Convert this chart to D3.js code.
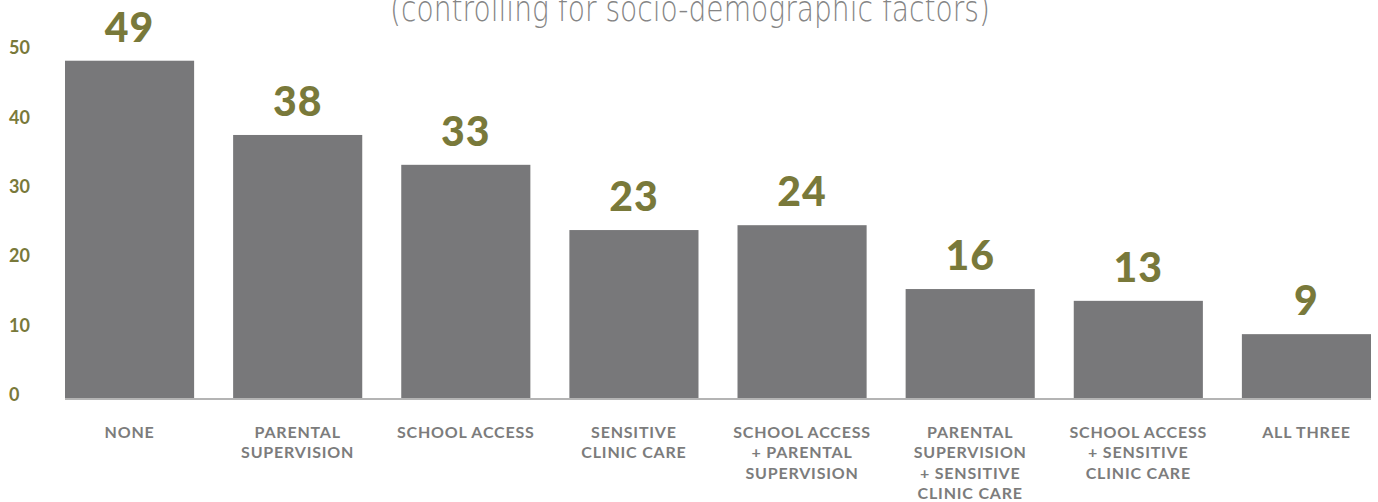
<!DOCTYPE html>
<html>
<head>
<meta charset="utf-8">
<script src="https://cdn.jsdelivr.net/npm/d3@7"></script>
<style>
    body { margin: 0; background: #fff; }
    svg { display: block; }
</style>
</head>
<body>
<svg id="chart" width="1378" height="502"></svg>
<script>
// chart data
var categories = [
    ["NONE"],
    ["PARENTAL", "SUPERVISION"],
    ["SCHOOL ACCESS"],
    ["SENSITIVE", "CLINIC CARE"],
    ["SCHOOL ACCESS", "+ PARENTAL", "SUPERVISION"],
    ["PARENTAL", "SUPERVISION", "+ SENSITIVE", "CLINIC CARE"],
    ["SCHOOL ACCESS", "+ SENSITIVE", "CLINIC CARE"],
    ["ALL THREE"]
];
var barValues = [48.6, 37.9, 33.6, 24.2, 24.9, 15.7, 14.0, 9.2];
var valueLabels = ["49", "38", "33", "23", "24", "16", "13", "9"];
var yTicks = [0, 10, 20, 30, 40, 50];
var subtitle = "(controlling for socio-demographic factors)";

var OLIVE = "#79793a";
var BAR = "#78787a";
var TEXT_GREY = "#7c7c7c";

var svg = d3.select("#chart");

var x = d3.scaleBand()
    .domain(d3.range(categories.length))
    .range([65, 1371])
    .paddingInner(0.232)
    .paddingOuter(0);

var y = d3.scaleLinear()
    .domain([0, 50])
    .range([398, 51]);

// subtitle, cut off at the top like the original
svg.append("text")
    .attr("x", 690)
    .attr("y", 21)
    .attr("text-anchor", "middle")
    .attr("fill", "#858585")
    .attr("font-family", "'DejaVu Sans', sans-serif")
    .attr("font-weight", "200")
    .attr("font-size", "36")
    .attr("textLength", 600)
    .attr("lengthAdjust", "spacingAndGlyphs")
    .text(subtitle);

// y axis labels
var yAxis = svg.append("g")
    .attr("transform", "translate(9,0)")
    .call(d3.axisLeft(y).tickValues(yTicks).tickSize(0).tickPadding(0));

yAxis.select(".domain").remove();
yAxis.selectAll("text")
    .attr("text-anchor", "start")
    .attr("x", 0)
    .attr("dy", "0.32em")
    .attr("transform", "translate(0,-3)")
    .attr("fill", OLIVE)
    .attr("font-family", "Lato, sans-serif")
    .attr("font-weight", "bold")
    .attr("font-size", "18");

// bars
svg.selectAll("rect.bar")
    .data(barValues)
    .enter().append("rect")
    .attr("class", "bar")
    .attr("x", function (d, i) { return x(i); })
    .attr("y", function (d) { return y(d); })
    .attr("width", x.bandwidth())
    .attr("height", function (d) { return y(0) - y(d); })
    .attr("fill", BAR);

// baseline
svg.append("line")
    .attr("x1", x(0))
    .attr("x2", 1371)
    .attr("y1", y(0) + 1)
    .attr("y2", y(0) + 1)
    .attr("stroke", "#b4b4b4")
    .attr("stroke-width", 2);

// value labels
svg.selectAll("text.value")
    .data(barValues)
    .enter().append("text")
    .attr("class", "value")
    .attr("x", function (d, i) { return x(i) + x.bandwidth() / 2; })
    .attr("y", function (d) { return y(d) - 19; })
    .attr("text-anchor", "middle")
    .attr("fill", OLIVE)
    .attr("font-family", "Lato, sans-serif")
    .attr("font-weight", "900")
    .attr("font-size", "41")
    .attr("letter-spacing", "1")
    .text(function (d, i) { return valueLabels[i]; });

// category labels
var gCat = svg.selectAll("text.cat")
    .data(categories)
    .enter().append("text")
    .attr("class", "cat")
    .attr("text-anchor", "middle")
    .attr("fill", TEXT_GREY)
    .attr("font-family", "Lato, sans-serif")
    .attr("font-weight", "bold")
    .attr("font-size", "16")
    .attr("letter-spacing", "0.8");

gCat.selectAll("tspan")
    .data(function (d, i) { return d.map(function (s) { return { s: s, i: i }; }); })
    .enter().append("tspan")
    .attr("x", function (d) { return x(d.i) + x.bandwidth() / 2; })
    .attr("y", function (d, j) { return 438 + j * 20.3; })
    .text(function (d) { return d.s; });
</script>
</body>
</html>
